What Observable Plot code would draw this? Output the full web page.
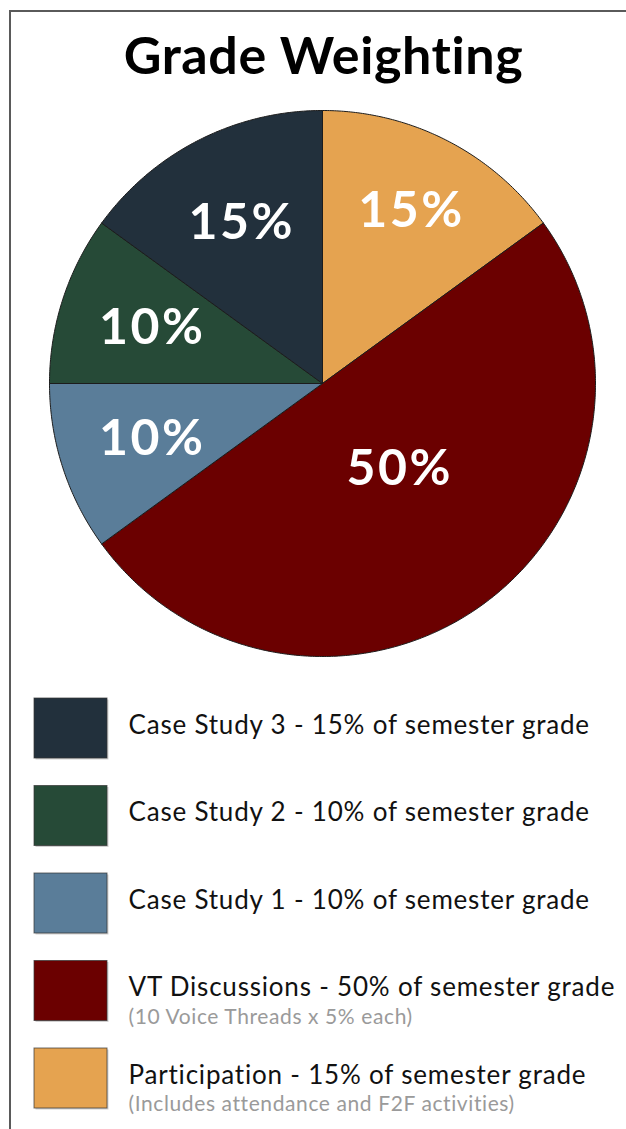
<!DOCTYPE html>
<html>
<head>
<meta charset="utf-8">
<script src="https://cdn.jsdelivr.net/npm/d3@7"></script>
<script src="https://cdn.jsdelivr.net/npm/@observablehq/plot@0.6"></script>
<style>
  html, body { margin: 0; padding: 0; background: #fff; }
  #wrap { position: relative; width: 626px; height: 1129px; overflow: hidden; }
  #frame { position: absolute; left: 9px; top: 10px; width: 700px; height: 1200px;
           border-top: 2px solid #5a5a5a; border-left: 2px solid #5a5a5a; }
  #chart { position: absolute; left: 0; top: 0; }
  .lt text { letter-spacing: 0.8px; }
  .nt text { letter-spacing: 0.6px; }
  .pl text { letter-spacing: 2.5px; }
  .tt text { letter-spacing: 0.6px; }
</style>
</head>
<body>
<div id="wrap"><div id="frame"></div><div id="chart"></div></div>
<script>
// ---- data ----
const title = "Grade Weighting";
const categories = ["Case Study 3", "Case Study 2", "Case Study 1", "VT Discussions", "Participation"];
const values = [15, 10, 10, 50, 15];
const colors = ["#22303c", "#264a37", "#5a7d99", "#6b0000", "#e5a350"];
const legendLabels = [
  "Case Study 3 - 15% of semester grade",
  "Case Study 2 - 10% of semester grade",
  "Case Study 1 - 10% of semester grade",
  "VT Discussions - 50% of semester grade",
  "Participation - 15% of semester grade"
];
const legendNotes = ["", "", "", "(10 Voice Threads x 5% each)", "(Includes attendance and F2F activities)"];
// clockwise order of slices starting at 12 o'clock
const pieOrder = ["Participation", "VT Discussions", "Case Study 1", "Case Study 2", "Case Study 3"];

// ---- layout ----
const W = 626, H = 1129;
const cx = 322, cy = 383, R = 273;
const legendTop = 698, legendStep = 87.5, swW = 73, swH = 60, swX = 34, textX = 128;

const pieData = pieOrder.map(c => ({cat: c, value: values[categories.indexOf(c)]}));
const arcs = d3.pie().sort(null).value(d => d.value)(pieData);

const slicePts = [];
arcs.forEach(a => {
  slicePts.push({cat: a.data.cat, x: cx, y: cy});
  const n = Math.max(2, Math.ceil((a.endAngle - a.startAngle) / (Math.PI / 360)));
  for (let i = 0; i <= n; i++) {
    const t = a.startAngle + (a.endAngle - a.startAngle) * i / n;
    slicePts.push({cat: a.data.cat, x: cx + R * Math.sin(t), y: cy - R * Math.cos(t)});
  }
  slicePts.push({cat: a.data.cat, x: cx, y: cy});
});

const sliceLabels = arcs.map((a, i) => {
  const m = (a.startAngle + a.endAngle) / 2 - (a.data.value >= 50 ? 0.1 : 0);
  const k = a.data.value >= 50 ? 0.42 : (i === 0 ? 0.71 : 0.66);
  return {label: a.data.value + "%", x: cx + k * R * Math.sin(m) + 1, y: cy - k * R * Math.cos(m)};
});

const legend = categories.map((c, i) => ({
  cat: c, label: legendLabels[i], note: legendNotes[i],
  y1: legendTop + i * legendStep, y2: legendTop + i * legendStep + swH
}));

const chart = Plot.plot({
  width: W, height: H,
  margin: 0, inset: 0,
  x: {domain: [0, W], range: [0, W], axis: null},
  y: {domain: [0, H], range: [0, H], axis: null},
  color: {domain: categories, range: colors},
  style: {fontFamily: "Lato, sans-serif", background: "transparent", overflow: "visible"},
  marks: [
    Plot.text([title], {x: () => cx + 1, y: () => 57, text: d => d, fontSize: 52, fontWeight: 700, fill: "#000", lineAnchor: "middle", className: "tt"}),
    Plot.line(slicePts, {x: "x", y: "y", z: "cat", fill: "cat", stroke: "#1c1c1c", strokeWidth: 1, curve: "linear", strokeLinejoin: "round"}),
    Plot.text(sliceLabels, {x: "x", y: "y", text: "label", fill: "white", fontSize: 50, fontWeight: 700, lineAnchor: "middle", className: "pl"}),
    Plot.rect(legend, {x1: () => swX + 1.5, x2: () => swX + swW + 1.5, y1: d => d.y1 + 1.5, y2: d => d.y2 + 1.5, fill: "#000", fillOpacity: 0.18}),
    Plot.rect(legend, {x1: () => swX, x2: () => swX + swW, y1: "y1", y2: "y2", fill: "cat", stroke: "#333", strokeOpacity: 0.7, strokeWidth: 1}),
    Plot.text(legend, {x: () => textX, y: d => (d.y1 + d.y2) / 2 - 3, text: "label", textAnchor: "start", fontSize: 26, fill: "#111", lineAnchor: "middle", className: "lt"}),
    Plot.text(legend.filter(d => d.note), {x: () => textX, y: d => (d.y1 + d.y2) / 2 + 26, text: "note", textAnchor: "start", fontSize: 21, fill: "#9a9a9a", lineAnchor: "middle", className: "nt"})
  ]
});
document.getElementById("chart").appendChild(chart);
</script>
</body>
</html>
